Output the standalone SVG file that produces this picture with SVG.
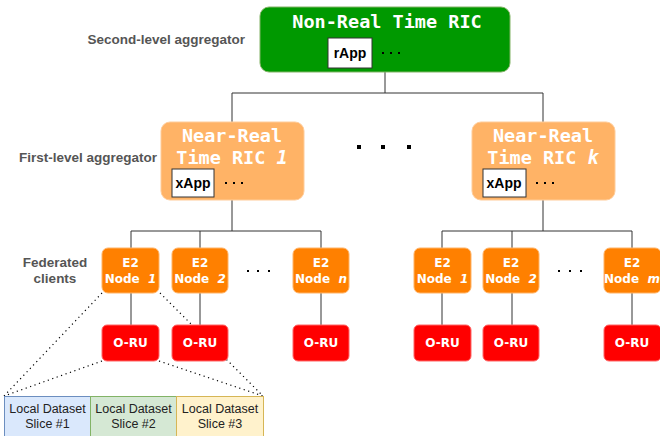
<svg xmlns="http://www.w3.org/2000/svg" width="660" height="436" viewBox="0 0 660 436">
<style>
.lbl{font-family:"Liberation Sans",Arial,sans-serif;font-size:13.5px;font-weight:bold;fill:#555;}
.mono{font-family:"DejaVu Sans Mono","Liberation Mono",monospace;font-size:18.5px;font-weight:bold;fill:#fff;text-anchor:middle;}
.app{fill:#fff;stroke:#333;stroke-width:1;}
.apptxt{font-family:"Liberation Sans",Arial,sans-serif;font-size:14px;font-weight:bold;fill:#000;text-anchor:middle;}
.e2{fill:#ff8000;stroke:#ffb366;stroke-width:1;}
.oru{fill:#ff0000;stroke:#ff6666;stroke-width:1;}
.nt{font-family:"DejaVu Sans",Verdana,sans-serif;font-size:12px;font-weight:bold;fill:#fff;text-anchor:middle;}
.it{font-style:italic;}
.conn{stroke:#333;stroke-width:1;fill:none;}
.dot{stroke:#000;stroke-width:1.2;stroke-dasharray:1.2 3.5;fill:none;}
.sdots{fill:#000;}
.ds{font-family:"Liberation Sans",Arial,sans-serif;font-size:12.5px;fill:#222;text-anchor:middle;}
</style>

<g id="labels">
<text class="lbl" x="245" y="44" text-anchor="end">Second-level aggregator</text>
<text class="lbl" x="157" y="162" text-anchor="end">First-level aggregator</text>
<text class="lbl" x="55" y="267" text-anchor="middle">Federated</text>
<text class="lbl" x="55" y="283" text-anchor="middle">clients</text>
</g>

<g id="connectors">
<path class="conn" d="M385 72 V93 M232 93 H543 M232 93 V122 M543 93 V122"/>
<path class="conn" d="M232 200 V231 M131 231 H321 M131 231 V248 M200 231 V248 M321 231 V248"/>
<path class="conn" d="M543 200 V231 M442 231 H632 M442 231 V248 M512 231 V248 M632 231 V248"/>
<path class="conn" d="M131 293 V325 M200 293 V325 M321 293 V325 M442 293 V325 M512 293 V325 M632 293 V325"/>
<path class="dot" d="M102 293 L4 396 M160 293 L263 396 M102 361 L4 396 M159 361 L263 396"/>
</g>

<g id="nonrt-ric">
<rect x="260" y="7" width="250" height="65" rx="9" fill="#009900" stroke="#82b366" stroke-width="1"/>
<text class="mono" x="387" y="28">Non-Real Time RIC</text>
<rect class="app" x="328" y="38" width="44" height="30"/>
<text class="apptxt" x="350" y="58">rApp</text>
<g class="sdots"><rect x="382" y="52" width="2" height="2"/><rect x="390" y="52" width="2" height="2"/><rect x="398" y="52" width="2" height="2"/></g>
</g>

<g id="nearrt-ric-1">
<rect x="161" y="122" width="143" height="78" rx="9" fill="#ffb366" stroke="#ffcc99" stroke-width="1"/>
<text class="mono" x="232" y="142">Near-Real</text>
<text class="mono" x="232" y="164">Time RIC <tspan class="it">1</tspan></text>
<rect class="app" x="172" y="169" width="42" height="28"/>
<text class="apptxt" x="193" y="188">xApp</text>
<g class="sdots"><rect x="225" y="182" width="2" height="2"/><rect x="233" y="182" width="2" height="2"/><rect x="241" y="182" width="2" height="2"/></g>
</g>

<g id="center-dots" class="sdots">
<rect x="357" y="145" width="4" height="4"/><rect x="381" y="145" width="4" height="4"/><rect x="407" y="145" width="4" height="4"/>
</g>

<g id="nearrt-ric-k">
<rect x="472" y="122" width="143" height="78" rx="9" fill="#ffb366" stroke="#ffcc99" stroke-width="1"/>
<text class="mono" x="543" y="142">Near-Real</text>
<text class="mono" x="543" y="164">Time RIC <tspan class="it">k</tspan></text>
<rect class="app" x="483" y="169" width="43" height="28"/>
<text class="apptxt" x="504" y="188">xApp</text>
<g class="sdots"><rect x="536" y="182" width="2" height="2"/><rect x="544" y="182" width="2" height="2"/><rect x="552" y="182" width="2" height="2"/></g>
</g>

<g id="e2-1a"><rect class="e2" x="102" y="248" width="57" height="45" rx="6"/><text class="nt" x="130.5" y="267">E2</text><text class="nt" x="130.5" y="283" xml:space="preserve">Node  <tspan class="it">1</tspan></text></g>
<g id="e2-2a"><rect class="e2" x="172" y="248" width="56" height="45" rx="6"/><text class="nt" x="200" y="267">E2</text><text class="nt" x="200" y="283" xml:space="preserve">Node  <tspan class="it">2</tspan></text></g>
<g id="e2-na"><rect class="e2" x="293" y="248" width="56" height="45" rx="6"/><text class="nt" x="321" y="267">E2</text><text class="nt" x="321" y="283" xml:space="preserve">Node  <tspan class="it">n</tspan></text></g>
<g id="dots-a" class="sdots"><rect x="247" y="270" width="2" height="2"/><rect x="257" y="270" width="2" height="2"/><rect x="268" y="270" width="2" height="2"/></g>

<g id="e2-1b"><rect class="e2" x="414" y="248" width="57" height="45" rx="6"/><text class="nt" x="442.5" y="267">E2</text><text class="nt" x="442.5" y="283" xml:space="preserve">Node  <tspan class="it">1</tspan></text></g>
<g id="e2-2b"><rect class="e2" x="483" y="248" width="56" height="45" rx="6"/><text class="nt" x="511" y="267">E2</text><text class="nt" x="511" y="283" xml:space="preserve">Node  <tspan class="it">2</tspan></text></g>
<g id="e2-mb"><rect class="e2" x="604" y="248" width="57" height="45" rx="6"/><text class="nt" x="632" y="267">E2</text><text class="nt" x="632" y="283" xml:space="preserve">Node  <tspan class="it">m</tspan></text></g>
<g id="dots-b" class="sdots"><rect x="558" y="270" width="2" height="2"/><rect x="569" y="270" width="2" height="2"/><rect x="580" y="270" width="2" height="2"/></g>

<g id="oru-1a"><rect class="oru" x="102" y="325" width="57" height="36" rx="5"/><text class="nt" x="130.5" y="347">O-RU</text></g>
<g id="oru-2a"><rect class="oru" x="172" y="325" width="56" height="36" rx="5"/><text class="nt" x="200" y="347">O-RU</text></g>
<g id="oru-na"><rect class="oru" x="293" y="325" width="56" height="36" rx="5"/><text class="nt" x="321" y="347">O-RU</text></g>
<g id="oru-1b"><rect class="oru" x="414" y="325" width="57" height="36" rx="5"/><text class="nt" x="442.5" y="347">O-RU</text></g>
<g id="oru-2b"><rect class="oru" x="483" y="325" width="56" height="36" rx="5"/><text class="nt" x="511" y="347">O-RU</text></g>
<g id="oru-mb"><rect class="oru" x="604" y="325" width="57" height="36" rx="5"/><text class="nt" x="632" y="347">O-RU</text></g>

<g id="slice-1"><rect x="4.5" y="396.5" width="86" height="42" fill="#dae8fc" stroke="#6c8ebf"/><text class="ds" x="47.5" y="413">Local Dataset</text><text class="ds" x="47.5" y="428">Slice #1</text></g>
<g id="slice-2"><rect x="90.5" y="396.5" width="86" height="42" fill="#d5e8d4" stroke="#82b366"/><text class="ds" x="133.5" y="413">Local Dataset</text><text class="ds" x="133.5" y="428">Slice #2</text></g>
<g id="slice-3"><rect x="176.5" y="396.5" width="87" height="42" fill="#fff2cc" stroke="#d6b656"/><text class="ds" x="220" y="413">Local Dataset</text><text class="ds" x="220" y="428">Slice #3</text></g>
</svg>
